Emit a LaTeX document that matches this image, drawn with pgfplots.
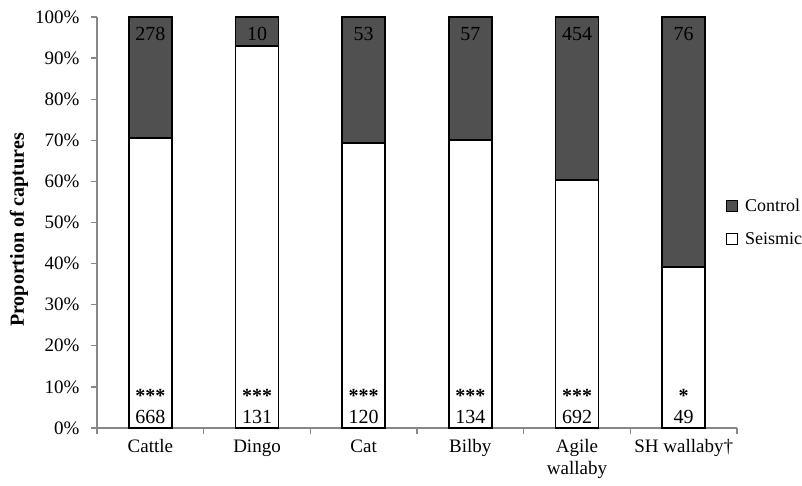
\documentclass[border=0pt]{standalone}
\usepackage{fontspec}
\setmainfont{Liberation Serif}
\usepackage{pgfplots}
\pgfplotsset{compat=1.18}
\definecolor{ctrl}{RGB}{80,80,80}
\definecolor{axgray}{RGB}{135,135,135}
\begin{document}
\begin{tikzpicture}
\useasboundingbox (-97pt,-57pt) rectangle (705pt,428pt);
\begin{axis}[
  at={(0pt,0pt)}, anchor=south west,
  scale only axis, width=640pt, height=411pt,
  ybar stacked, bar width=43pt,
  xmin=-0.5, xmax=5.5, ymin=0, ymax=100,
  axis x line*=bottom, axis y line*=left,
  axis line style={axgray, line width=1.3pt, -},
  tick style={axgray, line width=1.3pt},
  major tick length=6pt,
  tick align=outside,
  /pgf/number format/assume math mode=true,
  tick label style={font=\fontsize{19}{22}\selectfont},
  ytick={0,10,...,100},
  yticklabel={\pgfmathprintnumber{\tick}\%},
  yticklabel style={xshift=-8pt},
  xtick={-0.5,0.5,...,5.5},
  xticklabels={},
  extra x ticks={0,1,2,3,4,5},
  extra x tick labels={Cattle,Dingo,Cat,Bilby,{Agile\\wallaby},SH wallaby†},
  extra x tick style={major tick length=0pt, xticklabel style={align=center, yshift=-8pt}},
  ylabel={Proportion of captures},
  ylabel style={at={(axis description cs:-0.1220,0.482)}, anchor=center, font=\bfseries\fontsize{20}{22}\selectfont},
  legend style={at={(axis description cs:1,0.5)}, anchor=west, xshift=-11pt, draw=none, fill=none, inner sep=0pt, font=\fontsize{18}{20}\selectfont, row sep=15pt, /tikz/every odd column/.append style={column sep=5pt}},
  legend cell align=left,
  reverse legend,
  legend image code/.code={\draw[#1, line width=0.9pt] (0pt,-5.5pt) rectangle (11pt,5.5pt);},
]
\addplot[fill=white, draw=black, line width=1.8pt] coordinates {(0,70.61) (1,92.91) (2,69.36) (3,70.16) (4,60.38) (5,39.20)};
\addplot[fill=ctrl, draw=black, line width=1.8pt] coordinates {(0,29.39) (1,7.09) (2,30.64) (3,29.84) (4,39.62) (5,60.80)};
\legend{Seismic, Control}
\coordinate (n0) at (axis cs:0,1.2);
\coordinate (n1) at (axis cs:1,1.2);
\coordinate (n2) at (axis cs:2,1.2);
\coordinate (n3) at (axis cs:3,1.2);
\coordinate (n4) at (axis cs:4,1.2);
\coordinate (n5) at (axis cs:5,1.2);
\coordinate (s0) at (axis cs:0,6.3);
\coordinate (s1) at (axis cs:1,6.3);
\coordinate (s2) at (axis cs:2,6.3);
\coordinate (s3) at (axis cs:3,6.3);
\coordinate (s4) at (axis cs:4,6.3);
\coordinate (s5) at (axis cs:5,6.3);
\coordinate (t0) at (axis cs:0,94.2);
\coordinate (t1) at (axis cs:1,94.2);
\coordinate (t2) at (axis cs:2,94.2);
\coordinate (t3) at (axis cs:3,94.2);
\coordinate (t4) at (axis cs:4,94.2);
\coordinate (t5) at (axis cs:5,94.2);
\end{axis}
\tikzset{num/.style={anchor=base, font=\fontsize{20}{20}\selectfont}, st/.style={anchor=base, font=\bfseries\fontsize{20}{20}\selectfont}}
\node[num] at (n0) {668};
\node[num] at (n1) {131};
\node[num] at (n2) {120};
\node[num] at (n3) {134};
\node[num] at (n4) {692};
\node[num] at (n5) {49};
\node[st] at (s0) {***};
\node[st] at (s1) {***};
\node[st] at (s2) {***};
\node[st] at (s3) {***};
\node[st] at (s4) {***};
\node[st] at (s5) {*};
\node[num] at (t0) {278};
\node[num] at (t1) {10};
\node[num] at (t2) {53};
\node[num] at (t3) {57};
\node[num] at (t4) {454};
\node[num] at (t5) {76};
\end{tikzpicture}
\end{document}
